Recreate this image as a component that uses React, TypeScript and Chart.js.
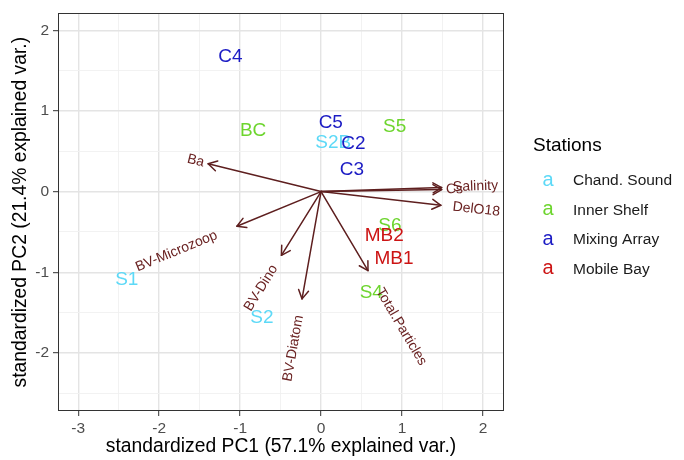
import React, { useEffect, useRef } from 'react';
import { Chart, registerables } from 'chart.js';

Chart.register(...registerables);

const FONT = '"Liberation Sans", Arial, Helvetica, sans-serif';

// Station groups
const groupNames = ['Chand. Sound', 'Inner Shelf', 'Mixing Array', 'Mobile Bay'];
const groupColors = ['#5DD9F7', '#6DD52E', '#1C1CC4', '#CC1414'];

const chandLabels = ['S1', 'S2', 'S2B'];
const chandX = [-2.4, -0.73, 0.15];
const chandY = [-1.09, -1.57, 0.61];

const innerLabels = ['BC', 'S5', 'S6', 'S4'];
const innerX = [-0.84, 0.91, 0.85, 0.62];
const innerY = [0.76, 0.8, -0.42, -1.26];

const mixingLabels = ['C4', 'C5', 'C2', 'C3'];
const mixingX = [-1.12, 0.12, 0.4, 0.38];
const mixingY = [1.67, 0.85, 0.59, 0.27];

const mobileLabels = ['MB2', 'MB1'];
const mobileX = [0.78, 0.9];
const mobileY = [-0.55, -0.83];

// Variable loadings (arrows)
const varNames = ['Ba', 'Salinity', 'Cs', 'DelO18', 'BV-Microzoop', 'BV-Dino', 'BV-Diatom', 'Total.Particles'];
const varX = [-1.395, 1.49, 1.49, 1.48, -1.04, -0.49, -0.235, 0.58];
const varY = [0.344, 0.05, 0.025, -0.17, -0.43, -0.79, -1.33, -0.98];

// Axis ticks
const xTicks = [-3, -2, -1, 0, 1, 2];
const yTicks = [-2, -1, 0, 1, 2];

const X_MIN = -3.25, X_MAX = 2.26, Y_MIN = -2.72, Y_MAX = 2.21;

const ARROW = '#5E1F1F';
const VARLABEL = '#6A2222';

function withMinor(major: number[], min: number, max: number) {
  const out: number[] = [];
  const first = major[0] - 0.5;
  const last = major[major.length - 1] + 0.5;
  for (let v = first; v <= last + 1e-9; v += 0.5) {
    if (v >= min && v <= max) out.push(Math.round(v * 10) / 10);
  }
  return out;
}

const isMajor = (v: number) => Math.abs(v - Math.round(v)) < 1e-9;

const groupsData = [
  { labels: chandLabels, xs: chandX, ys: chandY },
  { labels: innerLabels, xs: innerX, ys: innerY },
  { labels: mixingLabels, xs: mixingX, ys: mixingY },
  { labels: mobileLabels, xs: mobileX, ys: mobileY },
];

const overlay = {
  id: 'overlay',
  afterDatasetsDraw(chart: any) {
    const ctx = chart.ctx as CanvasRenderingContext2D;
    const xs = chart.scales.x;
    const ys = chart.scales.y;
    const ca = chart.chartArea;
    const px = (v: number) => xs.getPixelForValue(v);
    const py = (v: number) => ys.getPixelForValue(v);
    const ox = px(0), oy = py(0);

    ctx.save();
    ctx.beginPath();
    ctx.rect(ca.left, ca.top, ca.right - ca.left, ca.bottom - ca.top);
    ctx.clip();

    // arrows
    ctx.strokeStyle = ARROW;
    ctx.lineWidth = 1.5;
    ctx.lineCap = 'round';
    ctx.lineJoin = 'round';
    varNames.forEach((_, i) => {
      const tx = px(varX[i]), ty = py(varY[i]);
      ctx.beginPath();
      ctx.moveTo(ox, oy);
      ctx.lineTo(tx, ty);
      ctx.stroke();
      const a = Math.atan2(ty - oy, tx - ox);
      const L = 10, spread = Math.PI / 6;
      ctx.beginPath();
      ctx.moveTo(tx - L * Math.cos(a - spread), ty - L * Math.sin(a - spread));
      ctx.lineTo(tx, ty);
      ctx.lineTo(tx - L * Math.cos(a + spread), ty - L * Math.sin(a + spread));
      ctx.stroke();
    });

    // station labels
    ctx.font = `19px ${FONT}`;
    ctx.textAlign = 'center';
    ctx.textBaseline = 'middle';
    groupsData.forEach((g, gi) => {
      ctx.fillStyle = groupColors[gi];
      g.labels.forEach((lab, i) => {
        ctx.fillText(lab, px(g.xs[i]), py(g.ys[i]));
      });
    });

    // variable labels
    ctx.font = `14px ${FONT}`;
    ctx.fillStyle = VARLABEL;
    ctx.textAlign = 'left';
    varNames.forEach((n, i) => {
      const tx = px(varX[i]), ty = py(varY[i]);
      const ang = Math.atan(varY[i] / varX[i]);
      const w = ctx.measureText(n).width;
      const s = Math.sign(varX[i]);
      const hj = (1 - 1.5 * s) / 2;
      ctx.save();
      ctx.translate(tx, ty);
      ctx.rotate(-ang);
      ctx.fillText(n, -hj * w, 0);
      ctx.restore();
    });
    ctx.restore();

    // panel border
    ctx.save();
    ctx.strokeStyle = '#333333';
    ctx.lineWidth = 1;
    ctx.strokeRect(Math.round(ca.left) + 0.5, Math.round(ca.top) + 0.5,
      Math.round(ca.right - ca.left) - 1, Math.round(ca.bottom - ca.top) - 1);

    // legend
    const lx = ca.right + 29;
    ctx.fillStyle = '#000000';
    ctx.textAlign = 'left';
    ctx.textBaseline = 'middle';
    ctx.font = `19px ${FONT}`;
    ctx.fillText('Stations', lx, 146);
    groupNames.forEach((name, i) => {
      const y = 181 + i * 29.6;
      ctx.font = `20px ${FONT}`;
      ctx.textAlign = 'center';
      ctx.fillStyle = groupColors[i];
      ctx.fillText('a', lx + 15, y - 1);
      ctx.font = `15.5px ${FONT}`;
      ctx.textAlign = 'left';
      ctx.fillStyle = '#1A1A1A';
      ctx.fillText(name, lx + 40, y);
    });
    ctx.restore();
  },
};

export default function App() {
  const ref = useRef<HTMLCanvasElement>(null);
  useEffect(() => {
    if (!ref.current) return;
    const datasets = groupsData.map((g, gi) => ({
      label: groupNames[gi],
      data: g.xs.map((x, i) => ({ x, y: g.ys[i] })),
      pointRadius: 0,
      pointHoverRadius: 0,
      showLine: false,
      borderColor: groupColors[gi],
      backgroundColor: groupColors[gi],
    }));
    const gridColor = (c: any) => (isMajor(c.tick.value) ? '#E4E4E4' : '#F1F1F1');
    const gridWidth = (c: any) => (isMajor(c.tick.value) ? 1.4 : 0.9);
    const tickColor = (c: any) => (isMajor(c.tick.value) ? '#333333' : 'rgba(0,0,0,0)');
    const chart = new Chart(ref.current, {
      type: 'scatter',
      data: { datasets },
      options: {
        animation: false,
        responsive: false,
        layout: { padding: { left: 0, top: 10, right: 180, bottom: 0 } },
        plugins: { legend: { display: false }, tooltip: { enabled: false } },
        scales: {
          x: {
            type: 'linear',
            min: X_MIN,
            max: X_MAX,
            afterBuildTicks: (s: any) => {
              s.ticks = withMinor(xTicks, X_MIN, X_MAX).map((v) => ({ value: v }));
            },
            afterFit: (s: any) => { s.height = 49; },
            border: { display: false },
            grid: { color: gridColor, lineWidth: gridWidth, tickColor, tickLength: 5, tickWidth: 1 },
            ticks: {
              autoSkip: false,
              maxRotation: 0,
              padding: 3,
              color: '#4D4D4D',
              font: { family: FONT, size: 15.5 },
              callback: (v: any) => (isMajor(Number(v)) ? String(Math.round(Number(v))) : ''),
            },
            title: {
              display: true,
              text: 'standardized PC1 (57.1% explained var.)',
              color: '#000000',
              font: { family: FONT, size: 19.3 },
              padding: { top: 0, bottom: 2 },
            },
          },
          y: {
            type: 'linear',
            min: Y_MIN,
            max: Y_MAX,
            afterBuildTicks: (s: any) => {
              s.ticks = withMinor(yTicks, Y_MIN, Y_MAX).map((v) => ({ value: v }));
            },
            afterFit: (s: any) => { s.width = 58; },
            border: { display: false },
            grid: { color: gridColor, lineWidth: gridWidth, tickColor, tickLength: 5, tickWidth: 1 },
            ticks: {
              autoSkip: false,
              padding: 4,
              color: '#4D4D4D',
              font: { family: FONT, size: 15.5 },
              callback: (v: any) => (isMajor(Number(v)) ? String(Math.round(Number(v))) : ''),
            },
            title: {
              display: true,
              text: 'standardized PC2 (21.4% explained var.)',
              color: '#000000',
              font: { family: FONT, size: 19.3 },
              padding: { top: 9, bottom: 0 },
            },
          },
        },
      },
      plugins: [overlay],
    } as any);
    return () => chart.destroy();
  }, []);
  return (
    <div style={{ position: 'fixed', left: 0, top: 0, width: 684, height: 460, background: '#fff' }}>
      <canvas ref={ref} width={684} height={460} />
    </div>
  );
}
